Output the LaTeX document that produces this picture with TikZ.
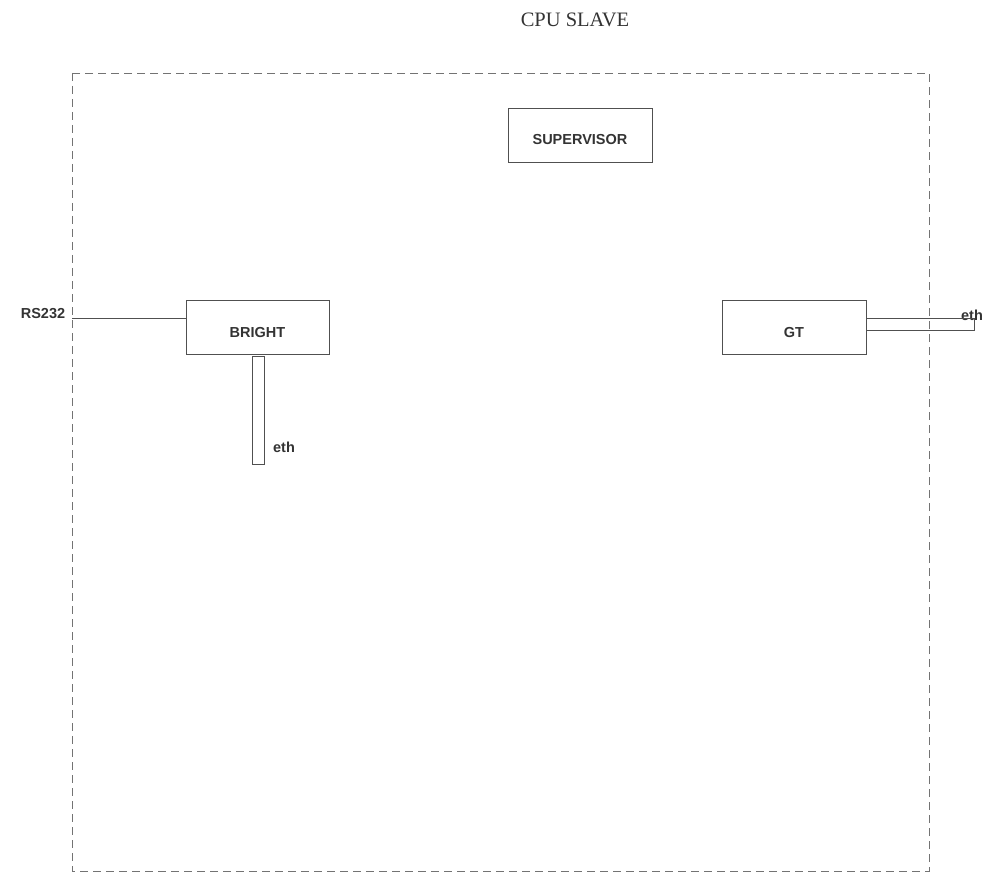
\documentclass[tikz,border=0pt]{standalone}
\usepackage{fontspec}
\setmainfont{Liberation Serif}
\setsansfont{Liberation Sans}
\usetikzlibrary{positioning}
\definecolor{xLine}{RGB}{80,80,80}
\newcommand{\Lb}[1]{\sffamily\bfseries\fontsize{14.5}{17}\selectfont #1}
\tikzset{
  unit/.style={draw=xLine, line width=0.8pt, minimum width=144pt, minimum height=54pt,
               inner sep=0pt, text height=20pt, text depth=0pt, font=\Lb{}, text=black!80},
  tube/.style={draw=xLine, line width=0.8pt, minimum width=12pt, minimum height=108pt, inner sep=0pt},
  frame/.style={draw=black!55, line width=0.8pt, dash pattern=on 8pt off 5pt},
  wire/.style={draw=xLine, line width=0.8pt},
  tag/.style={font=\Lb{}, text=black!80, inner sep=1pt},
}
\begin{document}
\begin{tikzpicture}[x=1pt, y=-1pt]
    \useasboundingbox (0,0) rectangle (1006,877);
    \node[font=\fontsize{20.5}{23}\selectfont, text=black!80] (title) at (575,20) {CPU SLAVE};
    \draw[frame] (72,73) rectangle (929,871);
    \node[unit] (sup) at (580,135) {SUPERVISOR};
    \node[unit, minimum width=143pt] (bright) at (257.5,327) {BRIGHT};
    \node[unit] (gt) at (794,327) {GT};
    \node[tube] (beth) at (258,410) {};
    \node[tag] (bethl) at (284,447) {eth};
    \node[tag] (rs) at (43,314) {RS232};
    \node[tag] (gethl) at (972,315) {eth};
    % connectors
    \coordinate (rsend) at (72,318);
    \draw[wire] (rsend) -- (rsend -| bright.west);
    \coordinate (gta) at (866,318);
    \coordinate (gtb) at (866,330);
    \draw[wire] (gta) -- (974,318) -- (974,330) -- (gtb);
\end{tikzpicture}
\end{document}
